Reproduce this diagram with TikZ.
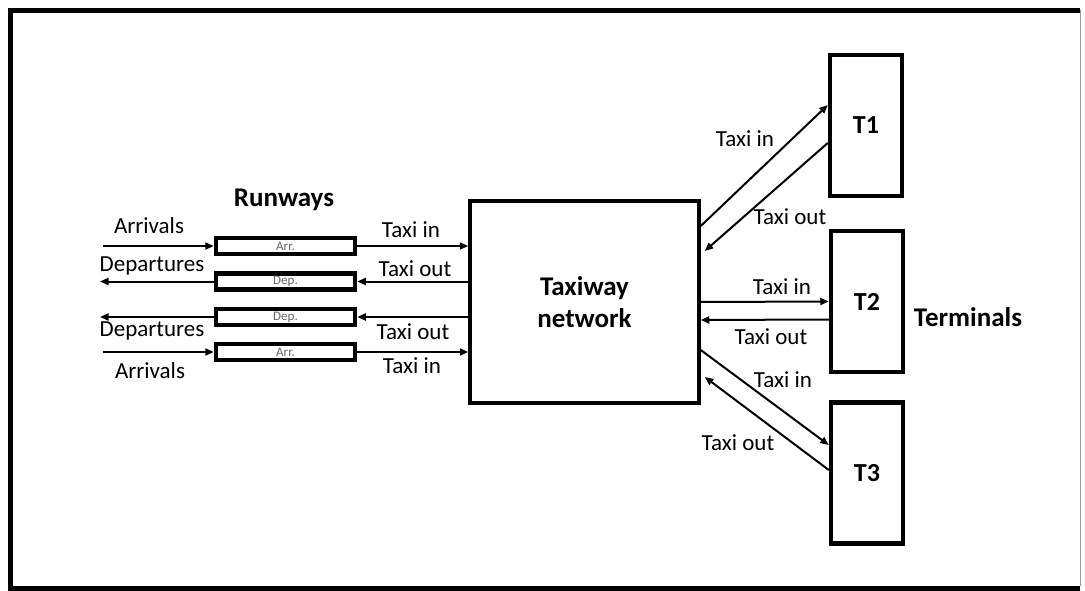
\documentclass[tikz,border=0pt]{standalone}
\usepackage{fontspec}
\setmainfont{Carlito}
\usetikzlibrary{arrows.meta,positioning}

\begin{document}
\begin{tikzpicture}[
    x=1pt, y=-1pt,
    >={Triangle[length=8.5pt,width=7pt]},
    every node/.style={font=\fontsize{23}{26}\selectfont, inner sep=0pt},
    flow/.style={->, line width=2pt},
    rwy/.style={draw, line width=4.5pt, minimum width=139pt, minimum height=16pt,
        font=\fontsize{13}{15}\selectfont, text=black!60},
    term/.style={draw, line width=4.5pt, minimum width=72pt, minimum height=141pt,
        font=\bfseries\fontsize{26}{30}\selectfont},
    hdr/.style={font=\bfseries\fontsize{27}{30}\selectfont},
]

% Frame
\useasboundingbox (0,0) rectangle (1085,591);
\draw[line width=5pt] (10.5,589) -- (10.5,10.5) -- (1080,10.5);
\draw[line width=5pt] (8,588.5) -- (1080,588.5);
\draw[line width=1pt, black!40] (1080,10.5) -- (1080,586);

% === Taxiway network ===
\node[draw, line width=3.5pt, minimum width=229pt, minimum height=202pt,
      align=center, font=\bfseries\fontsize{27}{32}\selectfont]
    (net) at (584.5,302) {Taxiway\\network};

% === Runways ===
\node[rwy] (arrA) at (285.5,246)   {Arr.};
\node[rwy] (depA) at (285.5,281.5) {Dep.};
\node[rwy] (depB) at (285.5,317)   {Dep.};
\node[rwy] (arrB) at (285.5,352)   {Arr.};
\node[hdr] (rwylbl) at (284,200) {Runways};

% Free ends on the left
\coordinate (inA)  at (103,246);
\coordinate (outA) at (100,281.5);
\coordinate (outB) at (100,317);
\coordinate (inB)  at (103,352);

\draw[flow] (inA) -- (arrA.west);
\draw[flow] (depA.west) -- (outA);
\draw[flow] (depB.west) -- (outB);
\draw[flow] (inB) -- (arrB.west);
\node (lArrA) at (149,226) {Arrivals};
\node (lDepA) at (152,266) {Departures};
\node (lDepB) at (152,331) {Departures};
\node (lArrB) at (150,371) {Arrivals};

% Runways <-> taxiway network
\draw[flow] (arrA.east) -- (arrA.east -| net.west);
\draw[flow] (depA.east -| net.west) -- (depA.east);
\draw[flow] (depB.east -| net.west) -- (depB.east);
\draw[flow] (arrB.east) -- (arrB.east -| net.west);
\node (lInA)  at (411,230) {Taxi in};
\node (lOutA) at (415,269) {Taxi out};
\node (lOutB) at (413,332) {Taxi out};
\node (lInB)  at (412,366) {Taxi in};

% === Terminals ===
\node[term] (T1) at (866,125.5) {T1};
\node[term] (T2) at (867,301.5) {T2};
\node[term] (T3) at (867,473)   {T3};
\node[hdr] (termlbl) at (968,317) {Terminals};

% Taxiway network <-> terminals
\draw[flow] ([yshift=76pt]net.east) -- ([yshift=20.5pt]T1.west);
\draw[flow] ([yshift=-17.5pt]T1.west) -- ([xshift=4pt,yshift=51pt]net.east);
\draw[flow] (net.east) -- (T2.west);
\draw[flow] ([yshift=-18pt]T2.west) -- ([yshift=-18pt]net.east);
\draw[flow] ([yshift=-48pt]net.east) -- ([yshift=28pt]T3.west);
\draw[flow] ([yshift=3pt]T3.west) -- ([xshift=4pt,yshift=-75pt]net.east);
\node (lIn1)  at (745,139) {Taxi in};
\node (lOut1) at (790,217) {Taxi out};
\node (lIn2)  at (782,287) {Taxi in};
\node (lOut2) at (771,337) {Taxi out};
\node (lIn3)  at (783,380) {Taxi in};
\node (lOut3) at (738,443) {Taxi out};

\end{tikzpicture}
\end{document}
